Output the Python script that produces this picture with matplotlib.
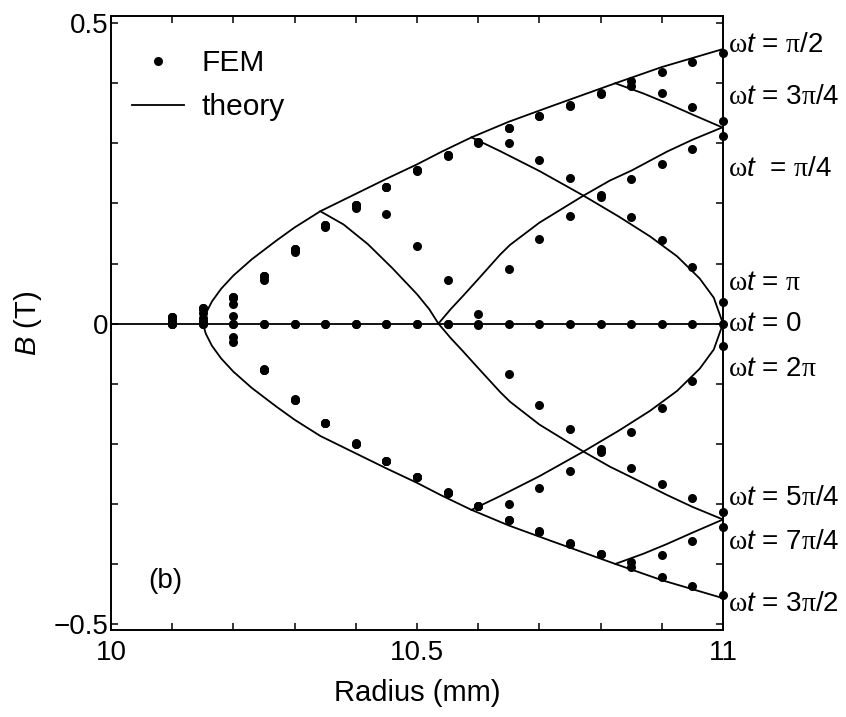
import numpy as np
import matplotlib
matplotlib.use("Agg")
import matplotlib.pyplot as plt

plt.rcParams.update({
    "font.family": ["Liberation Sans", "DejaVu Sans"],
    "mathtext.fontset": "custom",
    "mathtext.rm": "Liberation Serif",
    "mathtext.it": "Liberation Sans:italic",
    "mathtext.sf": "Liberation Sans",
    "axes.unicode_minus": True,
})

# FEM samples (radius in mm, B in T), one list per phase
radius = [10.10, 10.15, 10.20, 10.25, 10.30, 10.35, 10.40, 10.45, 10.50, 10.55,
          10.60, 10.65, 10.70, 10.75, 10.80, 10.85, 10.90, 10.95, 11.00]
fem_0 = [0.0, 0.0, 0.0, 0.0, 0.0, 0.0, 0.0, 0.0, 0.0, 0.0,
         0.0, 0.0, 0.0, 0.0, 0.0, 0.0, 0.0, 0.0, 0.0]
fem_pi4 = [0.0, 0.0, 0.0, 0.0, 0.0, 0.0, 0.0, 0.0, 0.0, 0.0,
           0.016, 0.091, 0.140, 0.179, 0.210, 0.241, 0.266, 0.290, 0.313]
fem_pi2 = [0.011, 0.026, 0.044, 0.080, 0.124, 0.164, 0.198, 0.228, 0.255, 0.280,
           0.302, 0.326, 0.346, 0.364, 0.383, 0.403, 0.419, 0.436, 0.451]
fem_3pi4 = [0.011, 0.026, 0.044, 0.080, 0.124, 0.164, 0.198, 0.228, 0.255, 0.280,
            0.302, 0.325, 0.345, 0.363, 0.382, 0.395, 0.383, 0.361, 0.337]
fem_pi = [0.011, 0.025, 0.043, 0.079, 0.123, 0.163, 0.197, 0.228, 0.254, 0.279,
          0.301, 0.300, 0.272, 0.243, 0.214, 0.178, 0.139, 0.094, 0.036]
fem_5pi4 = [0.007, 0.018, 0.033, 0.072, 0.120, 0.160, 0.192, 0.182, 0.129, 0.073,
            -0.002, -0.084, -0.135, -0.176, -0.208, -0.240, -0.267, -0.290, -0.314]
fem_3pi2 = [0.002, 0.009, -0.031, -0.077, -0.127, -0.166, -0.200, -0.229, -0.256, -0.282,
            -0.304, -0.327, -0.347, -0.366, -0.384, -0.405, -0.421, -0.437, -0.452]
fem_7pi4 = [0.001, 0.004, -0.023, -0.077, -0.127, -0.166, -0.200, -0.229, -0.256, -0.282,
            -0.304, -0.327, -0.346, -0.365, -0.383, -0.397, -0.385, -0.362, -0.338]
fem_2pi = [0.000, 0.001, 0.013, -0.076, -0.126, -0.165, -0.199, -0.228, -0.255, -0.281,
           -0.303, -0.300, -0.273, -0.245, -0.214, -0.180, -0.141, -0.096, -0.037]

# theory curves
env_r = [10.150, 10.155, 10.165, 10.180, 10.200, 10.230, 10.270, 10.300, 10.342, 10.400,
         10.450, 10.500, 10.540, 10.589, 10.650, 10.720, 10.824, 10.900, 11.000]
env_b = [0.000, 0.017, 0.037, 0.058, 0.080, 0.107, 0.138, 0.160, 0.187, 0.216,
         0.241, 0.265, 0.286, 0.310, 0.336, 0.362, 0.400, 0.427, 0.457]
th_5pi4_r = [10.342, 10.380, 10.420, 10.460, 10.500, 10.520, 10.535, 10.555, 10.576, 10.600,
             10.636, 10.652, 10.700, 10.772, 10.815, 10.851, 10.908, 10.950, 11.000]
th_5pi4_b = [0.187, 0.165, 0.132, 0.092, 0.049, 0.024, 0.000, -0.024, -0.047, -0.074,
             -0.114, -0.130, -0.168, -0.213, -0.238, -0.256, -0.285, -0.305, -0.326]
th_pi4_r = [10.535, 10.555, 10.576, 10.600, 10.636, 10.652, 10.700, 10.772, 10.815, 10.851,
            10.908, 10.950, 11.000]
th_pi4_b = [0.000, 0.024, 0.047, 0.074, 0.115, 0.131, 0.168, 0.213, 0.238, 0.255,
            0.286, 0.306, 0.327]
th_pi_r = [10.589, 10.636, 10.700, 10.772, 10.830, 10.881, 10.925, 10.962, 10.985, 11.000]
th_pi_b = [0.310, 0.287, 0.254, 0.213, 0.178, 0.145, 0.112, 0.075, 0.043, 0.000]
th_3pi4_r = [10.824, 10.870, 10.908, 10.950, 11.000]
th_3pi4_b = [0.400, 0.383, 0.367, 0.348, 0.326]
zero_r = [10.0, 11.0]
zero_b = [0.0, 0.0]

phase_labels = [r"$\mathrm{\omega}t$ = $\mathrm{\pi}$/2", r"$\mathrm{\omega}t$ = 3$\mathrm{\pi}$/4",
                r"$\mathrm{\omega}t$  = $\mathrm{\pi}$/4", r"$\mathrm{\omega}t$ = $\mathrm{\pi}$",
                r"$\mathrm{\omega}t$ = 0", r"$\mathrm{\omega}t$ = 2$\mathrm{\pi}$",
                r"$\mathrm{\omega}t$ = 5$\mathrm{\pi}$/4", r"$\mathrm{\omega}t$ = 7$\mathrm{\pi}$/4",
                r"$\mathrm{\omega}t$ = 3$\mathrm{\pi}$/2"]
label_y = [0.463, 0.377, 0.257, 0.068, 0.0, -0.075, -0.290, -0.363, -0.467]

fig = plt.figure(figsize=(8.46, 7.17), dpi=100)
ax = fig.add_axes([0.1312, 0.1213, 0.7234, 0.8564])

lw = 1.3
theory, = ax.plot(env_r, env_b, "k-", lw=lw, label="theory")
ax.plot(env_r, -np.array(env_b), "k-", lw=lw)
ax.plot(zero_r, zero_b, "k-", lw=lw)
ax.plot(th_5pi4_r, th_5pi4_b, "k-", lw=lw)
ax.plot(th_pi4_r, th_pi4_b, "k-", lw=lw)
ax.plot(th_pi_r, th_pi_b, "k-", lw=lw)
ax.plot(th_pi_r, -np.array(th_pi_b), "k-", lw=lw)
ax.plot(th_3pi4_r, th_3pi4_b, "k-", lw=lw)
ax.plot(th_3pi4_r, -np.array(th_3pi4_b), "k-", lw=lw)

fem_sets = [fem_0, fem_pi4, fem_pi2, fem_3pi4, fem_pi, fem_5pi4, fem_3pi2, fem_7pi4, fem_2pi]
fem_handle = None
for vals in fem_sets:
    h, = ax.plot(radius, vals, "o", color="k", ms=6.5, mec="none", clip_on=False, zorder=5)
    if fem_handle is None:
        fem_handle = h
fem_handle.set_label("FEM")

ax.set_xlim(10, 11)
ax.set_ylim(-0.51, 0.512)
ax.set_xticks([10, 10.5, 11])
ax.set_xticklabels(["10", "10.5", "11"])
ax.set_xticks([10.1, 10.2, 10.3, 10.4, 10.6, 10.7, 10.8, 10.9], minor=True)
ax.set_yticks([-0.5, 0, 0.5])
ax.set_yticklabels(["\u22120.5", "0", "0.5"])
ax.set_yticks([-0.4, -0.3, -0.2, -0.1, 0.1, 0.2, 0.3, 0.4], minor=True)
ax.tick_params(which="both", direction="in", top=True, right=True,
               length=5, width=1.1, labelsize=20)
ax.tick_params(axis="x", pad=7)
ax.tick_params(axis="y", pad=2)
for s in ax.spines.values():
    s.set_linewidth(1.4)

ax.set_xlabel("Radius (mm)", fontsize=21, va="center")
ax.xaxis.set_label_coords(0.5, -0.103)
ax.set_ylabel(r"$B$ (T)", fontsize=21, va="center")
ax.yaxis.set_label_coords(-0.1356, 0.5)

for txt, y in zip(phase_labels, label_y):
    ax.text(11.008, y, txt, fontsize=20, ha="left", va="center")

ax.text(10.088, -0.428, "(b)", fontsize=20, ha="center", va="center")

ax.legend(handles=[fem_handle, theory], loc="upper left", bbox_to_anchor=(0.034, 0.946),
          frameon=False, fontsize=21.5, handlelength=1.75, handletextpad=0.6,
          borderpad=0, borderaxespad=0, labelspacing=0.53, numpoints=1)

fig.savefig("out.png", dpi=100)
